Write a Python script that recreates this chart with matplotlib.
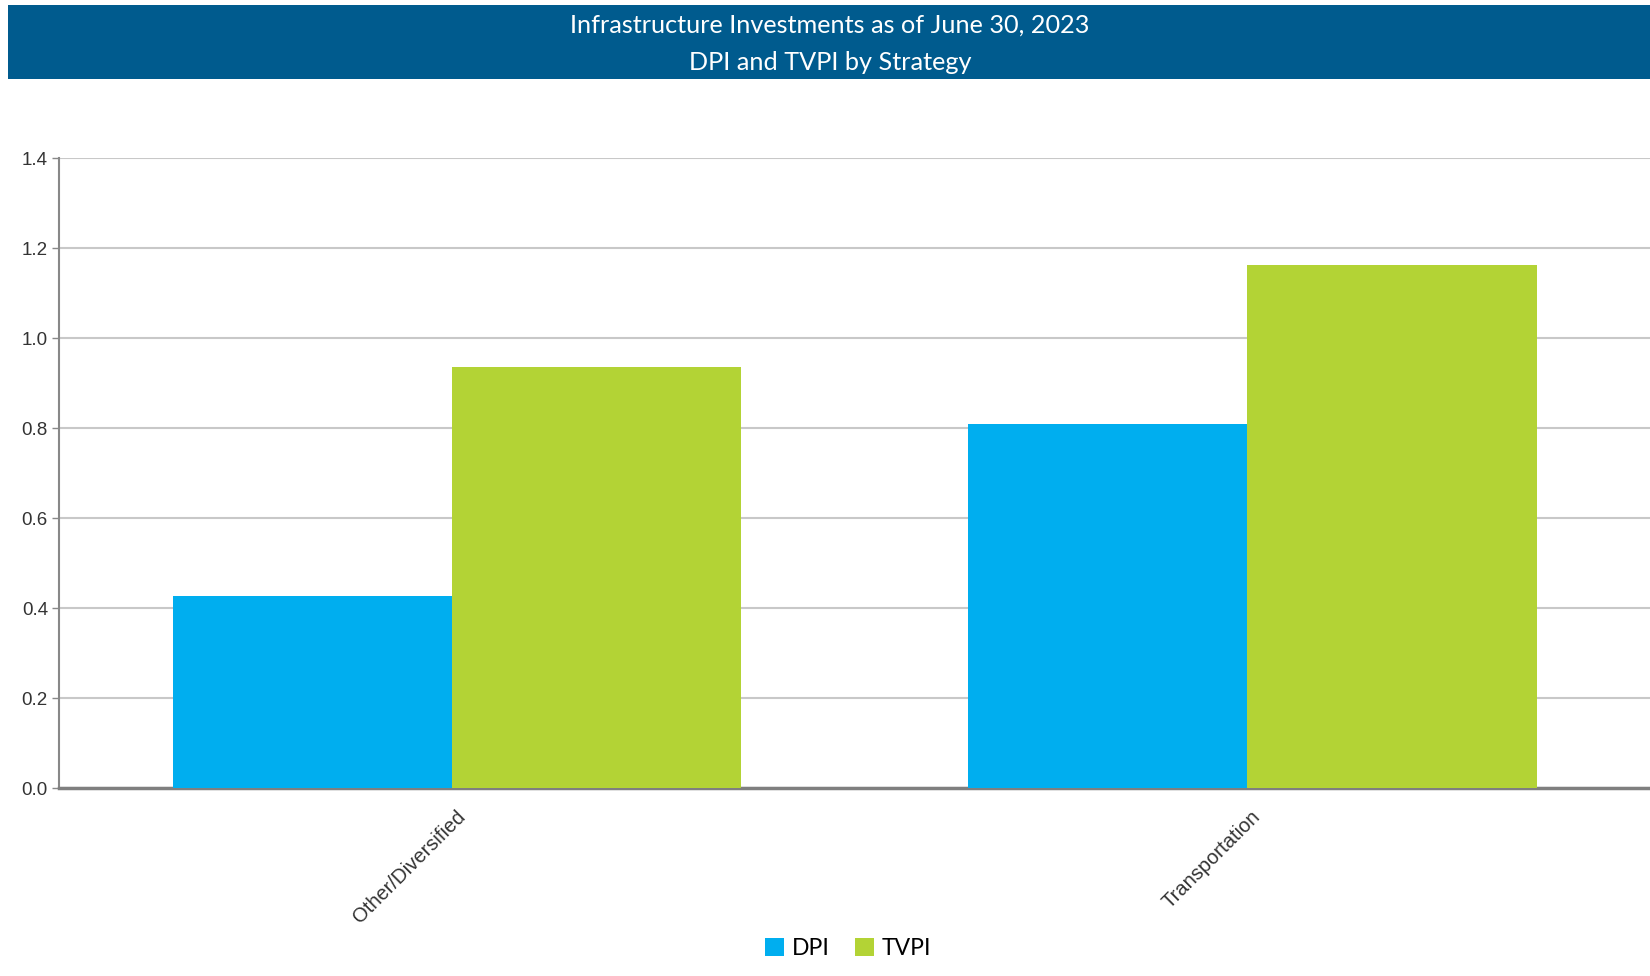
import matplotlib
matplotlib.use("Agg")
import matplotlib.pyplot as plt
import numpy as np
from matplotlib.patches import Rectangle, Patch
import matplotlib.transforms as mtrans

categories = ["Other/Diversified", "Transportation"]
series_names = ["DPI", "TVPI"]
dpi_values = [0.427, 0.809]
tvpi_values = [0.935, 1.162]
y_ticks = [0.0, 0.2, 0.4, 0.6, 0.8, 1.0, 1.2, 1.4]
title_lines = ["Infrastructure Investments as of June 30, 2023", "DPI and TVPI by Strategy"]

colors = {"DPI": "#00AEEF", "TVPI": "#B3D335"}
banner_color = "#005B8E"

fig = plt.figure(figsize=(16.5, 9.76), dpi=100)
fig.patch.set_facecolor("white")

# Title banner
fig.patches.append(Rectangle((0.005, 0.919), 0.995, 0.076, transform=fig.transFigure,
                             facecolor=banner_color, edgecolor="none", zorder=0))
fig.text(0.503, 0.974, title_lines[0], ha="center", va="center", color="white",
         fontsize=18.2, family="Lato")
fig.text(0.503, 0.936, title_lines[1], ha="center", va="center", color="white",
         fontsize=18.2, family="Lato")

ax = fig.add_axes([0.0358, 0.1926, 1 - 0.0358, 0.6455])
x = np.arange(len(categories))
w_dpi = 0.3505
w_tvpi = 0.364
left_dpi = x - 0.357
left_tvpi = left_dpi + w_dpi
ax.bar(left_dpi, dpi_values, width=w_dpi, align="edge", color=colors["DPI"], zorder=3, label="DPI")
ax.bar(left_tvpi, tvpi_values, width=w_tvpi, align="edge", color=colors["TVPI"], zorder=3, label="TVPI")

ax.set_xlim(-0.5, 1.5)
ax.set_ylim(0, 1.4)
ax.set_yticks(y_ticks)
ax.set_yticklabels([f"{v:.1f}" for v in y_ticks], fontsize=13.5, color="#333333",
                   family="Liberation Sans")
ax.yaxis.grid(True, color="#C8C8C8", linewidth=1.5, zorder=0)
ax.set_axisbelow(True)
ax.tick_params(axis="y", length=5, color="#888888", width=1, pad=3)
ax.tick_params(axis="x", length=0, pad=14)
ax.set_xticks(x)
ax.set_xticklabels(categories, rotation=45, ha="right", fontsize=14.5, color="#333333",
                   family="Liberation Sans")
offset = mtrans.ScaledTranslation(12 / 100, 0, fig.dpi_scale_trans)
for lab in ax.get_xticklabels():
    lab.set_transform(lab.get_transform() + offset)

for side in ["top", "right"]:
    ax.spines[side].set_visible(False)
ax.spines["left"].set_color("#888888")
ax.spines["left"].set_linewidth(1.5)
ax.spines["bottom"].set_color("#7F7F7F")
ax.spines["bottom"].set_linewidth(2.5)

handles = [Patch(facecolor=colors[n], edgecolor="none") for n in series_names]
fig.legend(handles, series_names, loc="center", bbox_to_anchor=(0.514, 0.0285), ncol=2,
           frameon=False, handlelength=0.83, handleheight=0.83,
           handletextpad=0.32, columnspacing=1.1, prop={"family": "Lato", "size": 16.5})

fig.savefig("out.png", dpi=100, facecolor="white")
